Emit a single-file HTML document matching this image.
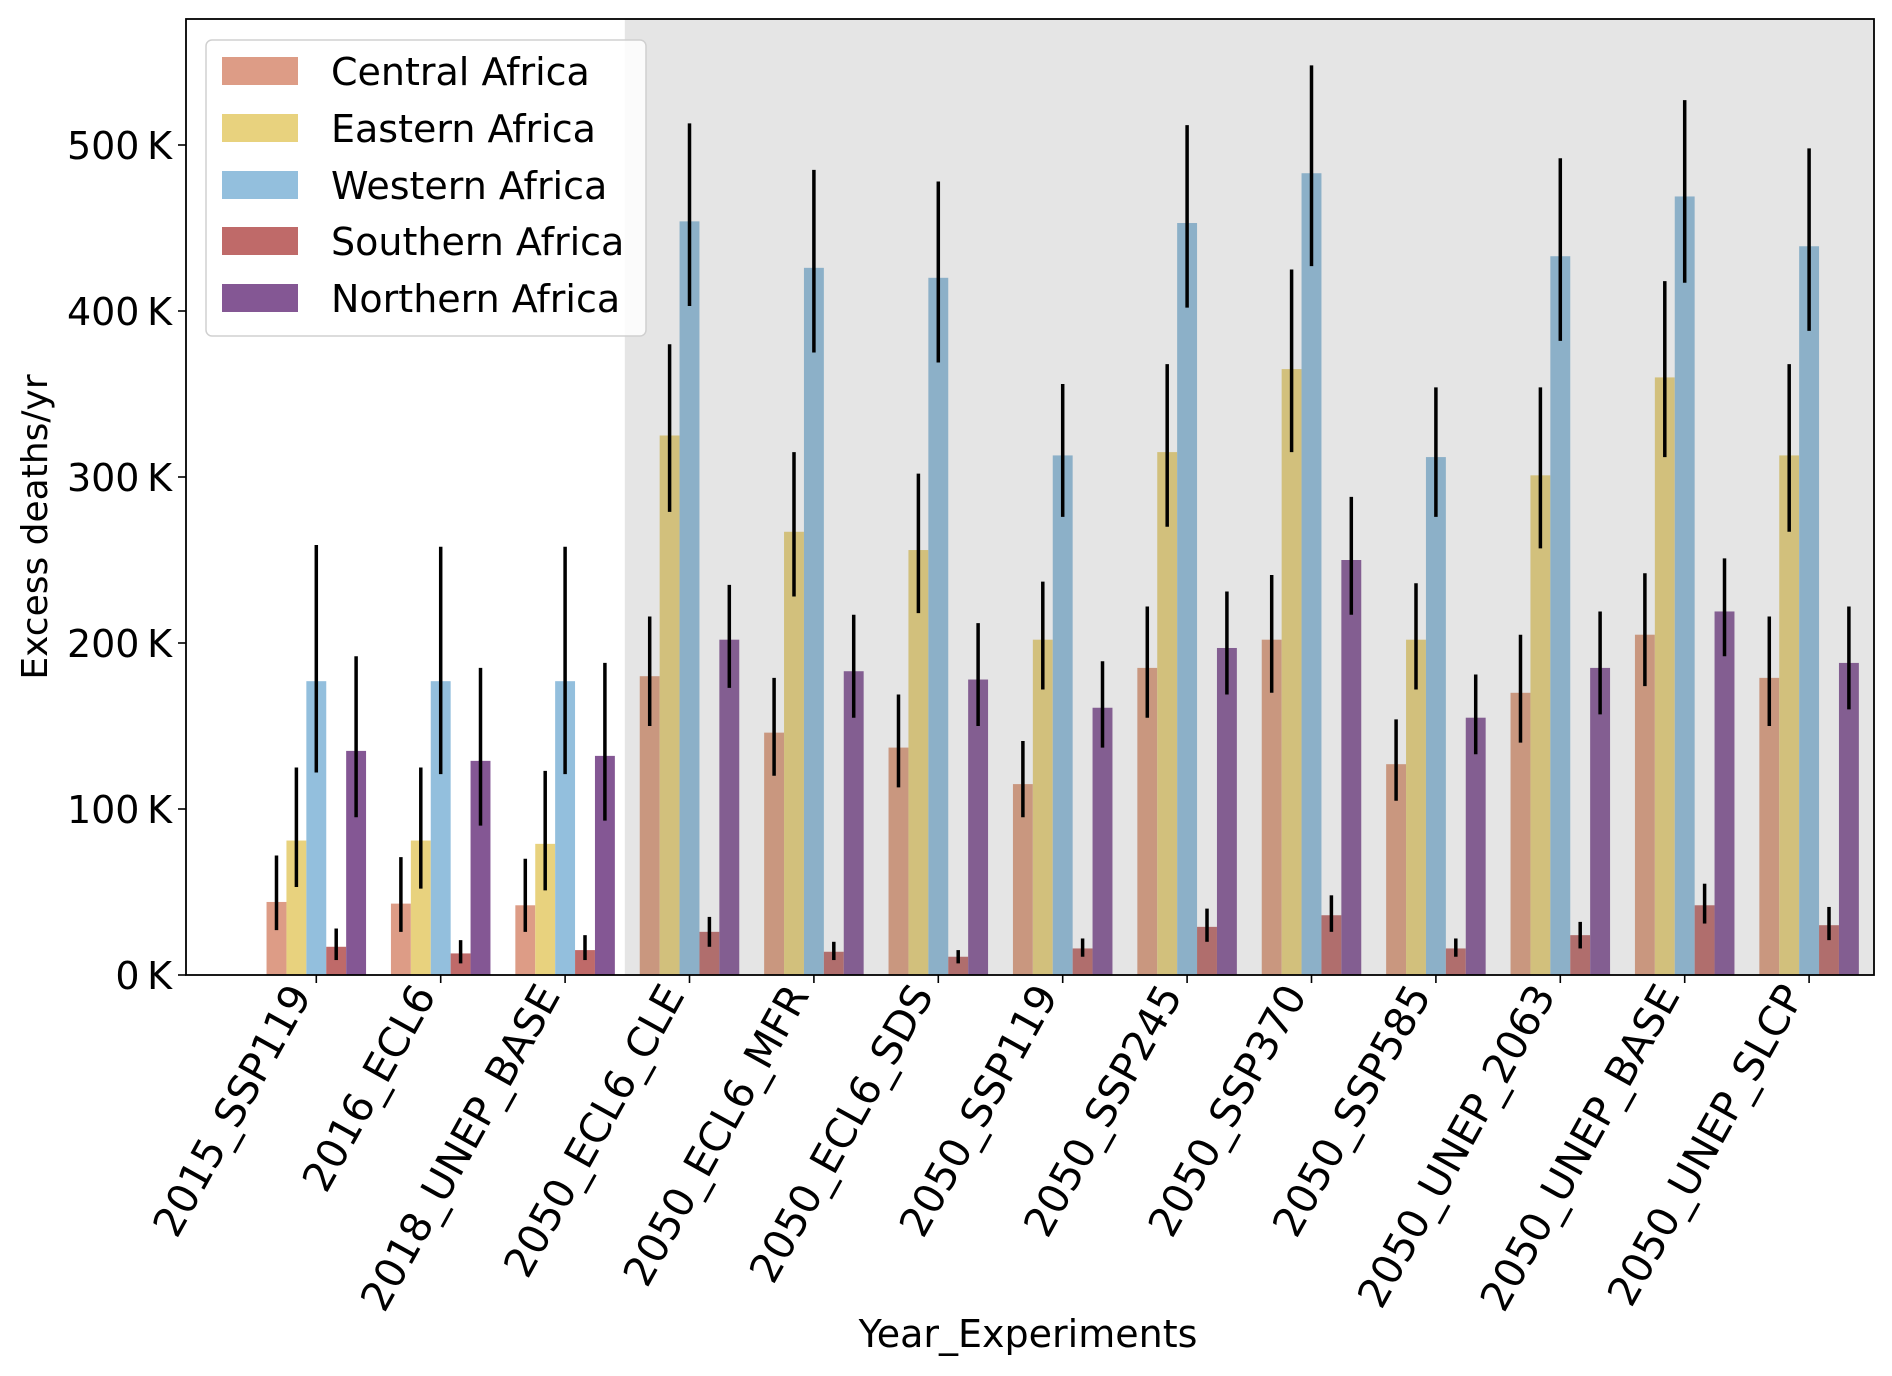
<!DOCTYPE html>
<html><head><meta charset="utf-8"><style>
html,body{margin:0;padding:0;background:#fff;}
svg{display:block;font-family:"DejaVu Sans","Liberation Sans",sans-serif;}
</style></head><body>
<svg id="chart" width="1892" height="1376" viewBox="0 0 1892 1376" xmlns="http://www.w3.org/2000/svg">
<rect width="1892" height="1376" fill="#fff"/>
<g id="plot"></g>
</svg>
<script>
const categories = ["2015_SSP119","2016_ECL6","2018_UNEP_BASE","2050_ECL6_CLE","2050_ECL6_MFR","2050_ECL6_SDS","2050_SSP119","2050_SSP245","2050_SSP370","2050_SSP585","2050_UNEP_2063","2050_UNEP_BASE","2050_UNEP_SLCP"];
const seriesNames = ["Central Africa","Eastern Africa","Western Africa","Southern Africa","Northern Africa"];
const central = [44,43,42,180,146,137,115,185,202,127,170,205,179];
const centralLo = [27,26,26,150,120,113,95,155,170,105,140,174,150];
const centralHi = [72,71,70,216,179,169,141,222,241,154,205,242,216];
const eastern = [81,81,79,325,267,256,202,315,365,202,301,360,313];
const easternLo = [53,52,51,279,228,218,172,270,315,172,257,312,267];
const easternHi = [125,125,123,380,315,302,237,368,425,236,354,418,368];
const western = [177,177,177,454,426,420,313,453,483,312,433,469,439];
const westernLo = [122,121,121,403,375,369,276,402,427,276,382,417,388];
const westernHi = [259,258,258,513,485,478,356,512,548,354,492,527,498];
const southern = [17,13,15,26,14,11,16,29,36,16,24,42,30];
const southernLo = [9,7,9,17,9,7,11,20,26,11,16,31,21];
const southernHi = [28,21,24,35,20,15,22,40,48,22,32,55,41];
const northern = [135,129,132,202,183,178,161,197,250,155,185,219,188];
const northernLo = [95,90,93,173,155,150,137,169,217,133,157,192,160];
const northernHi = [192,185,188,235,217,212,189,231,288,181,219,251,222];
const yTicks = [0,100,200,300,400,500];
const yTickLabels = ["0\u2009K","100\u2009K","200\u2009K","300\u2009K","400\u2009K","500\u2009K"];
const shadeStart = 2.48;

const NS="http://www.w3.org/2000/svg";
const L=186,R=1874,T=19,B=975;
function xS(v){return 316.3+v*124.4;}
function yS(k){return B-k*1.66;}
const g=document.getElementById('plot');
function mk(tag,attrs,parent){const e=document.createElementNS(NS,tag);for(const k in attrs)e.setAttribute(k,attrs[k]);(parent||g).appendChild(e);return e;}

const sh=mk('rect',{x:xS(shadeStart),y:T,width:R-xS(shadeStart),height:B-T,fill:'#e5e5e5'});



const vals=[central,eastern,western,southern,northern];
const los=[centralLo,easternLo,westernLo,southernLo,northernLo];
const his=[centralHi,easternHi,westernHi,southernHi,northernHi];
const colors=["#dd9c86","#e8d27e","#93bfdd","#bf6a69","#845794"];
const colorsShade=["#c9977f","#d2c07c","#8cb0c8","#b06e6d","#835e91"];
const keys=["central","eastern","western","southern","northern"];
const bw=0.16;
for(let s=0;s<5;s++){
  for(let i=0;i<categories.length;i++){
    const c=i-0.4+bw*s;
    const x0=xS(c),x1=xS(c+bw);
    const shaded=c>=shadeStart;
    const r=mk('rect',{x:x0,y:yS(vals[s][i]),width:x1-x0,height:B-yS(vals[s][i]),fill:shaded?colorsShade[s]:colors[s]});
    
    
  }
}
for(let s=0;s<5;s++){
  for(let i=0;i<categories.length;i++){
    const cx=xS(i-0.4+bw*s+bw/2);
    const e=mk('line',{x1:cx,x2:cx,y1:yS(los[s][i]),y2:yS(his[s][i]),stroke:'#000','stroke-width':3.5});
    
    
  }
}
const fr=mk('rect',{x:L,y:T,width:R-L,height:B-T,fill:'none',stroke:'#000','stroke-width':1.8});


for(let i=0;i<yTicks.length;i++){
  const y=yS(yTicks[i]);
  mk('line',{x1:L-8,x2:L,y1:y,y2:y,stroke:'#000','stroke-width':1.6});
  const t=mk('text',{x:L-14,y:y+14,'text-anchor':'end','font-size':38,fill:'#000'});
  t.textContent=yTickLabels[i];
  
  
}
for(let i=0;i<categories.length;i++){
  const x=xS(i);
  mk('line',{x1:x,x2:x,y1:B,y2:B+8,stroke:'#000','stroke-width':1.6});
  const t=mk('text',{transform:'translate('+(x-4)+','+(B+20)+') rotate(-61)','text-anchor':'end','font-size':41,fill:'#000'});
  t.textContent=categories[i];
  
  
}
const yt=mk('text',{transform:'translate(47,527) rotate(-90)','text-anchor':'middle','font-size':36,fill:'#000'});
yt.textContent='Excess deaths/yr';


const xt=mk('text',{x:1028,y:1347,'text-anchor':'middle','font-size':38,fill:'#000'});
xt.textContent='Year_Experiments';


const lg=mk('g',{});


mk('rect',{x:206,y:40,width:440,height:296,rx:6,fill:'#fff','fill-opacity':0.85,stroke:'#d0d0d0','stroke-width':1.5},lg);
const rowsY=[71,128,185,241,298];
for(let s=0;s<5;s++){
  const e=mk('g',{},lg);
  
  
  mk('rect',{x:222,y:rowsY[s]-14,width:76,height:28,fill:colors[s]},e);
  const t=mk('text',{x:331,y:rowsY[s]+14,'font-size':38,fill:'#000'},e);
  t.textContent=seriesNames[s];
}
</script>
</body></html>
